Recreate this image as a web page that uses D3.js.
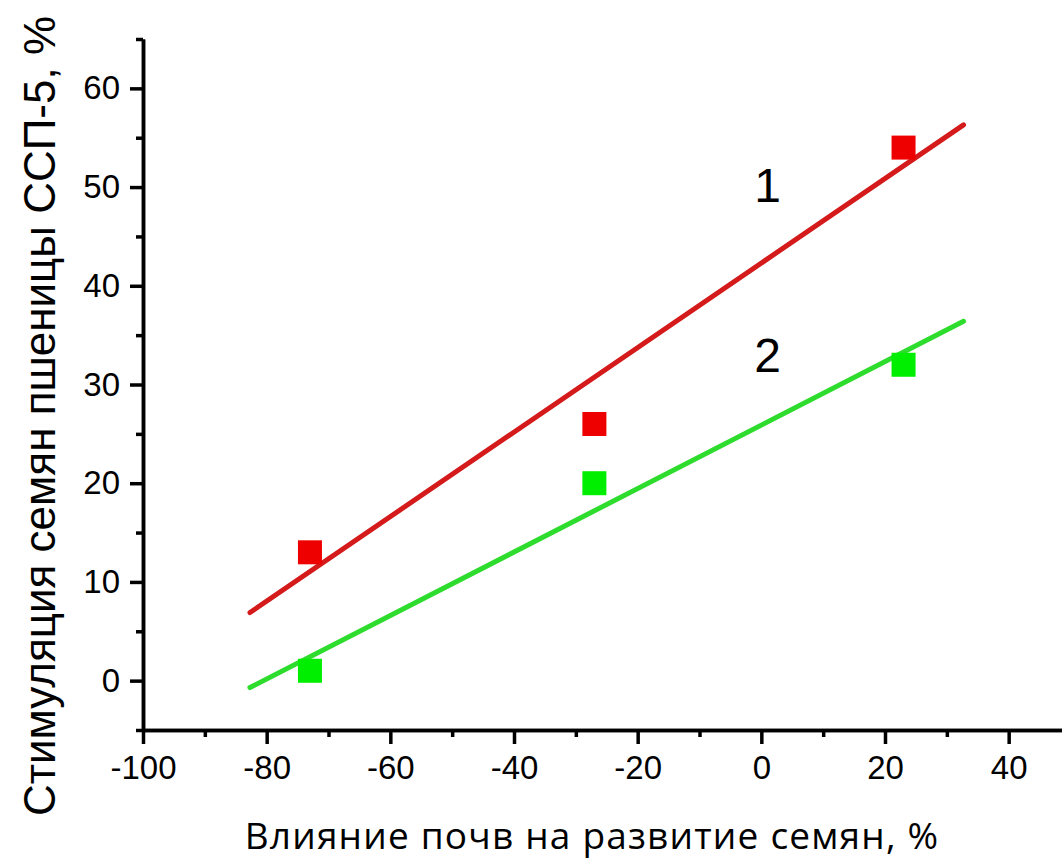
<!DOCTYPE html>
<html>
<head>
<meta charset="utf-8">
<script src="https://cdn.jsdelivr.net/npm/d3@7.9.0/dist/d3.min.js"></script>
<style>
  html, body { margin: 0; padding: 0; background: #fff; }
  svg { display: block; }
  .axis text { font-family: "Liberation Sans", Arial, sans-serif; font-size: 33px; fill: #000; }
  .axis path, .axis line { stroke: #000; stroke-width: 3.5px; }
</style>
</head>
<body>
<script>
// ─── DATA ────────────────────────────────────────────────────────────────
const xValues      = [-73, -27, 23];
const series1      = [13, 26, 54];   // curve 1 (red)
const series2      = [1, 20, 32];    // curve 2 (green)
// fitted lines, endpoints
const fitX         = [-82.7, 32.7];
const fit1         = [6.9, 56.3];
const fit2         = [-0.7, 36.4];
const xMajorTicks  = [-100, -80, -60, -40, -20, 0, 20, 40];
const xMinorTicks  = [-90, -70, -50, -30, -10, 10, 30];
const yMajorTicks  = [0, 10, 20, 30, 40, 50, 60];
const yMinorTicks  = [-5, 5, 15, 25, 35, 45, 55, 65];
const curveLabels  = [{ text: '1', x: 1, y: 48.5 }, { text: '2', x: 1, y: 31.3 }];
const xTitle = 'Влияние почв на развитие семян, %';
const yTitle = 'Стимуляция семян пшеницы ССП-5, %';

// ─── SVG ─────────────────────────────────────────────────────────────────
const W = 1062, H = 859;
const svg = d3.select('body').append('svg')
  .attr('width', W).attr('height', H);

const x = d3.scaleLinear().domain([-100, 50]).range([143, 1070.5]);
const y = d3.scaleLinear().domain([-5, 65]).range([730, 39]);
const fmt = d => String(d);   // plain hyphen minus, as in the original

// ─── AXES ────────────────────────────────────────────────────────────────
svg.append('g')
    .attr('class', 'axis')
    .attr('transform', `translate(0,${y(-5)})`)
    .call(d3.axisBottom(x).tickValues(xMinorTicks).tickSize(7).tickSizeOuter(0).tickFormat(''));

const gx = svg.append('g')
    .attr('class', 'axis')
    .attr('transform', `translate(0,${y(-5)})`)
    .call(d3.axisBottom(x).tickValues(xMajorTicks).tickSize(14).tickSizeOuter(0).tickPadding(12).tickFormat(fmt));
gx.selectAll('text').attr('dy', '0.71em');

svg.append('g')
    .attr('class', 'axis')
    .attr('transform', `translate(${x(-100)},0)`)
    .call(d3.axisLeft(y).tickValues(yMinorTicks).tickSize(7).tickSizeOuter(0).tickFormat(''));

svg.append('g')
    .attr('class', 'axis')
    .attr('transform', `translate(${x(-100)},0)`)
    .call(d3.axisLeft(y).tickValues(yMajorTicks).tickSize(13).tickSizeOuter(0).tickPadding(10).tickFormat(fmt));

// ─── FIT LINES ───────────────────────────────────────────────────────────
const line = d3.line().x(d => x(d[0])).y(d => y(d[1]));

svg.append('path')
  .datum(d3.zip(fitX, fit1))
  .attr('d', line)
  .attr('fill', 'none')
  .attr('stroke', '#d41a1a')
  .attr('stroke-width', 5)
  .attr('stroke-linecap', 'round');

svg.append('path')
  .datum(d3.zip(fitX, fit2))
  .attr('d', line)
  .attr('fill', 'none')
  .attr('stroke', '#2edc2e')
  .attr('stroke-width', 5)
  .attr('stroke-linecap', 'round');

// ─── POINTS ──────────────────────────────────────────────────────────────
const sq = 24;
svg.append('g').selectAll('rect')
  .data(d3.zip(xValues, series1))
  .join('rect')
    .attr('x', d => x(d[0]) - sq / 2)
    .attr('y', d => y(d[1]) - sq / 2)
    .attr('width', sq).attr('height', sq)
    .attr('fill', '#ee0000');

svg.append('g').selectAll('rect')
  .data(d3.zip(xValues, series2))
  .join('rect')
    .attr('x', d => x(d[0]) - sq / 2)
    .attr('y', d => y(d[1]) - sq / 2)
    .attr('width', sq).attr('height', sq)
    .attr('fill', '#00ee00');

// ─── LABELS ──────────────────────────────────────────────────────────────
svg.append('g').selectAll('text')
  .data(curveLabels)
  .join('text')
    .attr('x', d => x(d.x))
    .attr('y', d => y(d.y))
    .attr('text-anchor', 'middle')
    .style('font-family', '"Liberation Sans", Arial, sans-serif')
    .style('font-size', '48px')
    .text(d => d.text);

svg.append('text')
  .attr('x', 592).attr('y', 849)
  .attr('text-anchor', 'middle')
  .style('font-family', '"Open Sans", sans-serif')
  .style('font-size', '37px')
  .style('letter-spacing', '1.2px')
  .text(xTitle);

svg.append('text')
  .attr('transform', 'translate(55,416) rotate(-90)')
  .attr('text-anchor', 'middle')
  .style('font-family', '"Liberation Sans", Arial, sans-serif')
  .style('font-size', '44px')
  .text(yTitle);
</script>
</body>
</html>
